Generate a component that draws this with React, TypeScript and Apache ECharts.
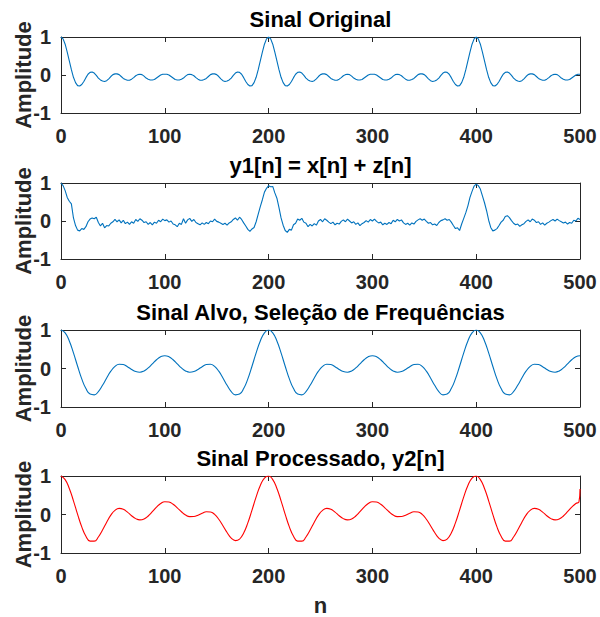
import { useEffect, useRef } from "react";
import * as echarts from "echarts";

const panelTitles = [
  "Sinal Original",
  "y1[n] = x[n] + z[n]",
  "Sinal Alvo, Seleção de Frequências",
  "Sinal Processado, y2[n]",
];
const yLabel = "Amplitude";
const xLabel = "n";

// x[n], sampled every 2 (n = 0..500)
const sig1 = [
  1.00, 0.95, 0.81, 0.60, 0.37, 0.14, -0.06, -0.20, -0.28, -0.29,
  -0.25, -0.17, -0.07, 0.02, 0.07, 0.08, 0.05, -0.01, -0.08, -0.13,
  -0.16, -0.17, -0.15, -0.10, -0.04, 0.01, 0.03, 0.03, 0.01, -0.04,
  -0.09, -0.12, -0.14, -0.14, -0.11, -0.07, -0.02, 0.01, 0.02, 0.01,
  -0.03, -0.08, -0.11, -0.13, -0.13, -0.12, -0.08, -0.04, 0.00, 0.02,
  0.02, 0.02, 0.00, -0.04, -0.08, -0.12, -0.13, -0.13, -0.11, -0.08,
  -0.03, 0.01, 0.02, 0.01, -0.02, -0.07, -0.11, -0.14, -0.14, -0.12,
  -0.09, -0.04, 0.01, 0.03, 0.03, 0.01, -0.04, -0.10, -0.15, -0.17,
  -0.16, -0.13, -0.08, -0.01, 0.05, 0.08, 0.07, 0.02, -0.07, -0.17,
  -0.25, -0.29, -0.28, -0.20, -0.06, 0.14, 0.37, 0.60, 0.81, 0.95,
  1.00, 0.95, 0.81, 0.60, 0.37, 0.14, -0.06, -0.20, -0.28, -0.29,
  -0.25, -0.17, -0.07, 0.02, 0.07, 0.08, 0.05, -0.01, -0.08, -0.13,
  -0.16, -0.17, -0.15, -0.10, -0.04, 0.01, 0.03, 0.03, 0.01, -0.04,
  -0.09, -0.12, -0.14, -0.14, -0.11, -0.07, -0.02, 0.01, 0.02, 0.01,
  -0.03, -0.08, -0.11, -0.13, -0.13, -0.12, -0.08, -0.04, 0.00, 0.02,
  0.02, 0.02, 0.00, -0.04, -0.08, -0.12, -0.13, -0.13, -0.11, -0.08,
  -0.03, 0.01, 0.02, 0.01, -0.02, -0.07, -0.11, -0.14, -0.14, -0.12,
  -0.09, -0.04, 0.01, 0.03, 0.03, 0.01, -0.04, -0.10, -0.15, -0.17,
  -0.16, -0.13, -0.08, -0.01, 0.05, 0.08, 0.07, 0.02, -0.07, -0.17,
  -0.25, -0.29, -0.28, -0.20, -0.06, 0.14, 0.37, 0.60, 0.81, 0.95,
  1.00, 0.95, 0.81, 0.60, 0.37, 0.14, -0.06, -0.20, -0.28, -0.29,
  -0.25, -0.17, -0.07, 0.02, 0.07, 0.08, 0.05, -0.01, -0.08, -0.13,
  -0.16, -0.17, -0.15, -0.10, -0.04, 0.01, 0.03, 0.03, 0.01, -0.04,
  -0.09, -0.12, -0.14, -0.14, -0.11, -0.07, -0.02, 0.01, 0.02, 0.01,
  -0.03, -0.08, -0.11, -0.13, -0.13, -0.12, -0.08, -0.04, 0.00, 0.02,
  0.02,
];

// y1[n] = x[n] + z[n], sampled every 2 (n = 0..500)
const sig2 = [
  1.00, 0.93, 0.80, 0.62, 0.52, 0.45, 0.08, -0.12, -0.24, -0.26,
  -0.20, -0.22, -0.15, -0.02, 0.05, 0.08, 0.06, 0.10, -0.04, -0.13,
  -0.06, -0.18, -0.12, -0.13, -0.06, -0.02, 0.04, -0.02, 0.03, -0.05,
  0.02, -0.07, -0.03, -0.09, -0.02, -0.06, 0.04, -0.01, 0.06, 0.02,
  -0.04, -0.02, -0.09, -0.04, -0.10, -0.03, -0.06, 0.02, -0.02, 0.05,
  0.01, 0.03, -0.03, 0.00, -0.08, -0.10, -0.15, -0.06, -0.09, 0.06,
  -0.06, 0.03, 0.07, -0.01, 0.04, -0.04, -0.07, -0.10, -0.05, -0.09,
  -0.04, -0.07, 0.00, -0.02, 0.05, -0.01, -0.03, -0.06, -0.09, -0.06,
  -0.11, -0.05, -0.02, 0.04, 0.08, 0.02, 0.10, 0.04, -0.05, -0.13,
  -0.22, -0.27, -0.21, -0.17, -0.02, 0.18, 0.38, 0.56, 0.76, 0.86,
  0.93, 0.90, 0.91, 0.74, 0.60, 0.35, 0.08, -0.11, -0.25, -0.30,
  -0.22, -0.24, -0.10, -0.06, 0.05, 0.02, 0.07, -0.03, -0.06, -0.15,
  -0.09, -0.13, -0.07, -0.11, 0.00, 0.04, -0.02, 0.06, 0.02, -0.03,
  -0.07, -0.03, -0.10, -0.06, -0.08, -0.01, 0.03, -0.02, 0.05, 0.00,
  -0.05, -0.02, -0.09, -0.05, -0.12, -0.07, -0.04, 0.01, -0.03, 0.04,
  0.00, 0.05, -0.01, -0.05, -0.03, -0.10, -0.06, -0.09, -0.04, -0.07,
  0.02, -0.02, 0.04, 0.00, 0.03, -0.05, -0.09, -0.06, -0.11, -0.05,
  -0.08, -0.01, 0.03, 0.06, 0.02, 0.05, -0.01, -0.06, -0.04, -0.10,
  -0.08, -0.12, -0.04, 0.01, 0.03, 0.06, 0.02, 0.04, -0.03, -0.12,
  -0.20, -0.18, -0.25, -0.08, 0.07, 0.22, 0.40, 0.62, 0.78, 0.92,
  0.97, 0.93, 0.84, 0.66, 0.48, 0.27, 0.02, -0.17, -0.26, -0.24,
  -0.20, -0.12, -0.03, 0.02, 0.12, 0.14, 0.09, 0.01, -0.06, -0.10,
  -0.08, -0.14, -0.10, -0.07, -0.01, 0.03, -0.02, 0.05, 0.02, -0.04,
  -0.02, -0.09, -0.05, -0.11, -0.06, -0.03, 0.01, 0.04, 0.00, 0.05,
  0.01, -0.02, -0.05, -0.03, -0.08, -0.04, -0.06, 0.02, 0.00, 0.07,
  0.04,
];

// Sinal Alvo, sampled every 4 (n = 0..500)
const sig3 = [
  1.000, 0.925, 0.714, 0.406, 0.058, -0.270, -0.522, -0.665, -0.685, -0.598,
  -0.436, -0.246, -0.070, 0.055, 0.112, 0.103, 0.048, -0.024, -0.080, -0.097,
  -0.064, 0.016, 0.122, 0.228, 0.305, 0.333, 0.305, 0.228, 0.122, 0.016,
  -0.064, -0.097, -0.080, -0.024, 0.048, 0.103, 0.112, 0.055, -0.070, -0.246,
  -0.436, -0.598, -0.685, -0.665, -0.522, -0.270, 0.058, 0.406, 0.714, 0.925,
  1.000, 0.925, 0.714, 0.406, 0.058, -0.270, -0.522, -0.665, -0.685, -0.598,
  -0.436, -0.246, -0.070, 0.055, 0.112, 0.103, 0.048, -0.024, -0.080, -0.097,
  -0.064, 0.016, 0.122, 0.228, 0.305, 0.333, 0.305, 0.228, 0.122, 0.016,
  -0.064, -0.097, -0.080, -0.024, 0.048, 0.103, 0.112, 0.055, -0.070, -0.246,
  -0.436, -0.598, -0.685, -0.665, -0.522, -0.270, 0.058, 0.406, 0.714, 0.925,
  1.000, 0.925, 0.714, 0.406, 0.058, -0.270, -0.522, -0.665, -0.685, -0.598,
  -0.436, -0.246, -0.070, 0.055, 0.112, 0.103, 0.048, -0.024, -0.080, -0.097,
  -0.064, 0.016, 0.122, 0.228, 0.305, 0.333,
];

// Sinal Processado y2[n], sampled every 4 (n = 0..496), then the last samples
const sig4 = [
  1.000, 0.905, 0.676, 0.356, 0.003, -0.322, -0.564, -0.692, -0.692, -0.584,
  -0.404, -0.200, -0.016, 0.109, 0.158, 0.135, 0.062, -0.031, -0.107, -0.139,
  -0.116, -0.039, 0.072, 0.190, 0.285, 0.333, 0.325, 0.266, 0.172, 0.071,
  -0.012, -0.055, -0.053, -0.017, 0.034, 0.071, 0.066, 0.001, -0.124, -0.292,
  -0.468, -0.612, -0.678, -0.638, -0.480, -0.218, 0.113, 0.456, 0.752, 0.945,
  1.000, 0.905, 0.676, 0.356, 0.003, -0.322, -0.564, -0.692, -0.692, -0.584,
  -0.404, -0.200, -0.016, 0.109, 0.158, 0.135, 0.062, -0.031, -0.107, -0.139,
  -0.116, -0.039, 0.072, 0.190, 0.285, 0.333, 0.325, 0.266, 0.172, 0.071,
  -0.012, -0.055, -0.053, -0.017, 0.034, 0.071, 0.066, 0.001, -0.124, -0.292,
  -0.468, -0.612, -0.678, -0.638, -0.480, -0.218, 0.113, 0.456, 0.752, 0.945,
  1.000, 0.905, 0.676, 0.356, 0.003, -0.322, -0.564, -0.692, -0.692, -0.584,
  -0.404, -0.200, -0.016, 0.109, 0.158, 0.135, 0.062, -0.031, -0.107, -0.139,
  -0.116, -0.039, 0.072, 0.190, 0.285,
];
const sig4TailN = [499, 500];
const sig4Tail = [0.33, 0.66];

const stepA = 2;
const stepB = 4;

export default function App() {
  const ref = useRef<HTMLDivElement>(null);

  useEffect(() => {
    document.body.style.margin = "0";
    const chart = echarts.init(ref.current!, null, { renderer: "svg" });
    const font = "'Liberation Sans', Arial, Helvetica, sans-serif";
    const axisColor = "#262626";
    const tops = [37, 183, 330, 476];
    const heights = [76, 76, 77, 77];
    const left = 61;
    const width = 519;

    const grids = tops.map((t, i) => ({
      left, width, top: t, height: heights[i],
      containLabel: false, outerBoundsMode: "none",
    }));
    const xAxes: any[] = [];
    const yAxes: any[] = [];
    tops.forEach((_, i) => {
      const axisLine = { onZero: false, lineStyle: { color: axisColor, width: 1 } };
      const axisTick = { inside: true, length: 5, lineStyle: { color: axisColor, width: 1 } };
      const labelStyle = { fontSize: 20, fontWeight: "bold", color: axisColor, fontFamily: font };
      const xCommon = {
        gridIndex: i, type: "value", min: 0, max: 500, interval: 100,
        splitLine: { show: false }, axisLine, axisTick,
      };
      xAxes.push({
        ...xCommon, position: "bottom",
        axisLabel: { ...labelStyle, margin: 12.5, showMinLabel: true, showMaxLabel: true, hideOverlap: false },
        name: i === 3 ? xLabel : "", nameLocation: "middle", nameGap: 41, nameMoveOverlap: false,
        nameTextStyle: { fontSize: 22, fontWeight: "bold", color: axisColor, fontFamily: font },
      });
      xAxes.push({ ...xCommon, position: "top", axisLabel: { show: false } });
      const yCommon = {
        gridIndex: i, type: "value", min: -1, max: 1, interval: 1,
        splitLine: { show: false }, axisLine, axisTick,
      };
      yAxes.push({
        ...yCommon, position: "left",
        axisLabel: { ...labelStyle, margin: 10, showMinLabel: true, showMaxLabel: true, hideOverlap: false },
        name: yLabel, nameLocation: "middle", nameGap: 27, nameRotate: 90, nameMoveOverlap: false,
        nameTextStyle: { fontSize: 22, fontWeight: "bold", color: axisColor, fontFamily: font },
      });
      yAxes.push({ ...yCommon, position: "right", axisLabel: { show: false } });
    });

    const titles = panelTitles.map((t, i) => ({
      text: t, left: 320.5, top: tops[i] - 10 - 18.6, textAlign: "center", padding: 0,
      textStyle: { fontSize: 22, fontWeight: "bold", color: "#000", fontFamily: font },
    }));

    const blue = "#0072BD";
    const red = "#FF0000";
    const d1 = sig1.map((v, k) => [k * stepA, v]);
    const d2 = sig2.map((v, k) => [k * stepA, v]);
    const d3 = sig3.map((v, k) => [k * stepB, v]);
    const d4 = sig4.map((v, k) => [k * stepB, v]).concat(sig4TailN.map((n, k) => [n, sig4Tail[k]]));

    const mk = (i: number, data: number[][], color: string, smooth: boolean) => ({
      type: "line", xAxisIndex: 2 * i, yAxisIndex: 2 * i, data,
      showSymbol: false, symbol: "none", smooth,
      lineStyle: { color, width: 1.1 }, itemStyle: { color },
    });

    chart.setOption({
      animation: false,
      backgroundColor: "#fff",
      title: titles,
      grid: grids,
      xAxis: xAxes,
      yAxis: yAxes,
      series: [mk(0, d1, blue, false), mk(1, d2, blue, false), mk(2, d3, blue, true), mk(3, d4, red, true)],
    });
    return () => chart.dispose();
  }, []);

  return <div ref={ref} style={{ width: 600, height: 617 }} />;
}
